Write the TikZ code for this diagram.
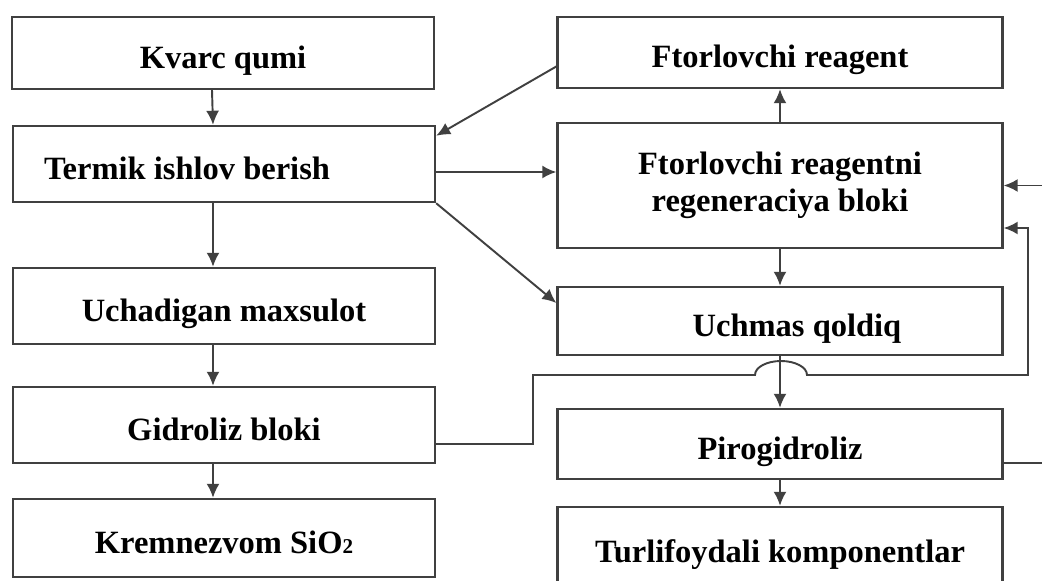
\documentclass[tikz,border=0pt]{standalone}
\usepackage{fontspec}
\setmainfont{Liberation Serif}
\usetikzlibrary{arrows.meta,calc}
\tikzset{
    block/.style={draw=black!75, line width=1.4pt, fill=white, inner sep=0pt, font=\bfseries\fontsize{18.5}{21}\selectfont},
    oneline/.style={block, text height=0.62cm, text depth=0pt},
    leftblock/.style={oneline, minimum width=8.44cm},
    rightblock/.style={oneline, minimum width=8.9cm},
    flow/.style={-{Latex[length=0.28cm,width=0.26cm]}, draw=black!75, line width=1.1pt}
}

\begin{document}
\begin{tikzpicture}[x=0.02cm,y=-0.02cm]
\useasboundingbox (0,0) rectangle (1042,581);
\clip (0,0) rectangle (1042,581);

% Left column
\node[leftblock, minimum height=1.44cm] (kvarc) at (223,53) {Kvarc qumi};
\node[leftblock, minimum height=1.52cm] (termik) at (224,164) {\hspace*{-1.48cm}Termik ishlov berish};
\node[leftblock, minimum height=1.52cm] (uchadigan) at (224,306) {Uchadigan maxsulot};
\node[leftblock, minimum height=1.52cm] (gidroliz) at (224,425) {Gidroliz bloki};
\node[leftblock, minimum height=1.56cm] (kremnezem) at (224,538) {Kremnezvom SiO{\fontsize{12}{12}\selectfont 2}};

% Right column
\node[rightblock, minimum height=1.42cm] (reagent) at (780,52.5) {Ftorlovchi reagent};
\node[block, align=center, minimum width=8.9cm, minimum height=2.5cm] (regen) at (780,185.5) {Ftorlovchi reagentni\\regeneraciya bloki};
\node[rightblock, minimum height=1.36cm] (uchmas) at (780,321) {\hspace*{0.68cm}Uchmas qoldiq};
\node[rightblock, minimum height=1.4cm] (piro) at (780,444) {Pirogidroliz};
\node[rightblock, minimum height=1.6cm] (turli) at (780,547) {Turlifoydali komponentlar};

% Left chain
\draw[flow] ([xshift=-0.22cm]kvarc.south) -- ([xshift=-0.22cm]termik.north);
\draw[flow] ([xshift=-0.22cm]termik.south) -- ([xshift=-0.22cm]uchadigan.north);
\draw[flow] ([xshift=-0.22cm]uchadigan.south) -- ([xshift=-0.22cm]gidroliz.north);
\draw[flow] ([xshift=-0.22cm]gidroliz.south) -- ([xshift=-0.22cm]kremnezem.north);

% Right chain
\draw[flow] (regen) -- (reagent);
\draw[flow] (regen) -- (uchmas);
\draw[flow] (uchmas) -- (piro);
\draw[flow] (piro) -- (turli);

% Cross links
\draw[flow] ($(reagent.west)+(0,14)$) -- ($(termik.north east)+(0,11)$);
\draw[flow] ($(termik.east)+(0,8)$) -- ($(regen.west)+(0,-13.5)$);
\draw[flow] (termik.south east) -- ($(uchmas.west)+(0,-18)$);

% Return lines
\draw[flow] ($(gidroliz.east)+(0,19)$) -- (533,444) -- (533,375) -- (755,375)
    arc[start angle=180, end angle=360, x radius=26, y radius=14] -- (1028,375) -- (1028,228) -- ($(regen.east)+(0,42.5)$);
\draw[flow] ($(piro.east)+(0,19)$) -| (1060,185.5) -- (regen.east);
\end{tikzpicture}
\end{document}
